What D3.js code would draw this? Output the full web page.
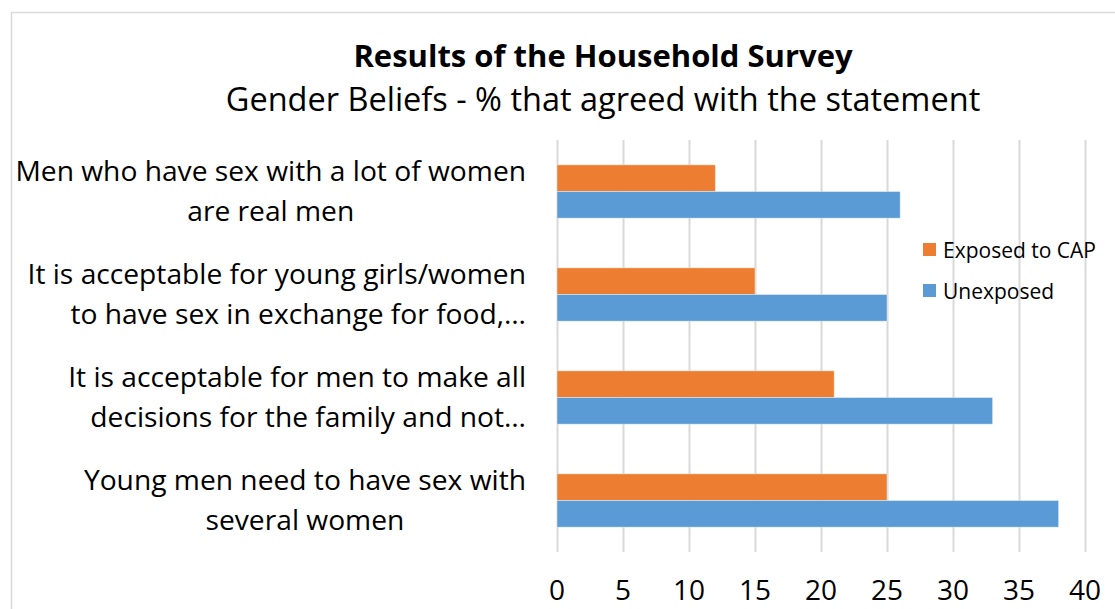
<!DOCTYPE html>
<html lang="en">
<head>
    <meta charset="UTF-8">
    <title>Results of the Household Survey</title>
    <script src="https://d3js.org/d3.v7.min.js"></script>
    <style>
        body { margin: 0; background: #fff; }
        text { font-family: "Open Sans", sans-serif; fill: #000; }
        .grid line { stroke: #d9d9d9; stroke-width: 2; }
        .grid path { display: none; }
    </style>
</head>
<body>
    <svg width="1115" height="609"></svg>

    <script>
        // data
        const categories = [
            ["Men who have sex with a lot of women", "are real men"],
            ["It is acceptable for young girls/women", "to have sex in exchange for food,\u2026"],
            ["It is acceptable for men to make all", "decisions for the family and not\u2026"],
            ["Young men need to have sex with", "several women"]
        ];
        const seriesNames = ["Exposed to CAP", "Unexposed"];
        const exposed = [12, 15, 21, 25];
        const unexposed = [26, 25, 33, 38];
        const xTicks = [0, 5, 10, 15, 20, 25, 30, 35, 40];
        const colors = ["#ed7d31", "#5b9bd5"];

        const svg = d3.select("svg");
        const plot = {left: 557, right: 1085, top: 140, bottom: 552};

        // chart frame
        svg.append("rect")
            .attr("x", 11.5).attr("y", 12.5)
            .attr("width", 1200).attr("height", 700)
            .attr("fill", "none")
            .attr("stroke", "#d9d9d9")
            .attr("stroke-width", 1.5);

        // titles
        svg.append("text")
            .attr("x", 603).attr("y", 67)
            .attr("text-anchor", "middle")
            .attr("font-size", 31)
            .attr("font-weight", "bold")
            .text("Results of the Household Survey");
        svg.append("text")
            .attr("x", 603).attr("y", 111)
            .attr("text-anchor", "middle")
            .attr("font-size", 32.5)
            .text("Gender Beliefs - % that agreed with the statement");

        const x = d3.scaleLinear()
            .domain([0, 40])
            .range([plot.left, plot.right]);

        const y = d3.scaleBand()
            .domain(d3.range(categories.length))
            .range([plot.top, plot.bottom]);

        const ySub = d3.scaleBand()
            .domain(seriesNames)
            .range([0, y.bandwidth()])
            .paddingOuter(0.93);

        // vertical gridlines
        svg.append("g")
            .attr("class", "grid")
            .attr("transform", `translate(0,${plot.bottom})`)
            .call(d3.axisBottom(x).tickValues(xTicks)
                .tickSize(-(plot.bottom - plot.top)).tickFormat(""));

        // tick labels
        svg.append("g")
            .selectAll("text")
            .data(xTicks)
            .join("text")
            .attr("x", d => x(d))
            .attr("y", 600)
            .attr("text-anchor", "middle")
            .attr("font-size", 28)
            .text(d => d);

        // bars
        const rows = categories.map((c, i) => ({i, values: [exposed[i], unexposed[i]]}));
        const groups = svg.append("g")
            .selectAll("g")
            .data(rows)
            .join("g")
            .attr("transform", d => `translate(0,${y(d.i)})`);

        groups.selectAll("rect")
            .data(d => d.values.map((v, k) => ({name: seriesNames[k], v, k})))
            .join("rect")
            .attr("x", x(0))
            .attr("y", d => ySub(d.name))
            .attr("width", d => x(d.v) - x(0))
            .attr("height", ySub.bandwidth())
            .attr("fill", d => colors[d.k])
            .attr("stroke", "#fff")
            .attr("stroke-opacity", 0.4)
            .attr("stroke-width", 1);

        // category labels: centered lines, block right-aligned at the axis,
        // truncated lines (ending with an ellipsis) run to the right edge
        const labelRight = 526;
        const lineGap = 40;
        categories.forEach((lines, i) => {
            const cy = y(i) + y.bandwidth() / 2;
            const g = svg.append("g");
            const texts = g.selectAll("text")
                .data(lines)
                .join("text")
                .attr("y", (d, j) => cy + (j - (lines.length - 1) / 2) * lineGap + 9)
                .attr("font-size", 28.2)
                .attr("text-anchor", "middle")
                .text(d => d);
            const maxW = d3.max(texts.nodes(), n => n.getComputedTextLength());
            texts.attr("x", labelRight - maxW / 2);
            texts.filter(d => d.endsWith("\u2026"))
                .attr("text-anchor", "end")
                .attr("x", labelRight);
        });

        // legend
        const legend = svg.append("g")
            .selectAll("g")
            .data(seriesNames)
            .join("g")
            .attr("transform", (d, i) => `translate(923,${250 + i * 41})`);
        legend.append("rect")
            .attr("x", 0).attr("y", -7)
            .attr("width", 13).attr("height", 13)
            .attr("fill", (d, i) => colors[i]);
        legend.append("text")
            .attr("x", 20).attr("y", 7.5)
            .attr("font-size", 21)
            .text(d => d);
    </script>
</body>
</html>
